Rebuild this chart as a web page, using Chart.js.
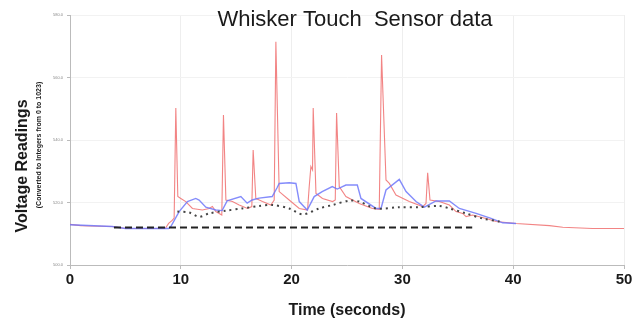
<!DOCTYPE html>
<html>
<head>
<meta charset="utf-8">
<script src="https://cdn.jsdelivr.net/npm/chart.js@4/dist/chart.umd.min.js"></script>
<style>
  html, body { margin: 0; padding: 0; background: #fff; }
  #wrap { width: 638px; height: 324px; }
</style>
</head>
<body>
<div id="wrap"><canvas id="whisker-chart"></canvas></div>
<script>
// raw sensor reading (red)
var rawTime = [0, 0.97, 1.7, 3.8, 5.0, 8.6, 8.9, 9.2, 9.4, 9.55, 9.73, 10.0, 10.45, 11.05, 11.95, 12.56, 12.85, 13.16, 13.7, 13.85, 14.07, 14.66, 15.27, 16.02, 16.41, 16.53, 16.77, 17.37, 18.13, 18.43, 18.58, 18.88, 19.78, 20.69, 21.44, 21.59, 21.74, 21.89, 21.95, 22.2, 22.79, 23.7, 23.94, 24.06, 24.3, 24.9, 26.1, 27.3, 27.91, 28.12, 28.52, 28.82, 29.42, 30.62, 31.83, 32.13, 32.28, 32.49, 33.33, 34.24, 34.84, 35.44, 35.75, 36.34, 37.55, 38.46, 40.26, 43.27, 44.47, 47.15, 50];
var rawValue = [513.0, 512.6, 512.5, 512.3, 511.7, 511.7, 513.3, 514.2, 515.0, 550.2, 521.9, 521.3, 520.3, 518.1, 517.6, 518.1, 518.7, 517.1, 516.0, 548.0, 520.8, 520.3, 519.2, 518.1, 518.7, 536.8, 521.3, 520.3, 519.2, 520.8, 571.4, 523.5, 520.8, 518.1, 517.6, 525.1, 531.5, 530.4, 550.2, 522.9, 521.3, 520.3, 520.8, 548.6, 525.1, 521.9, 519.7, 518.1, 517.8, 567.2, 527.2, 526.1, 522.4, 520.3, 518.7, 519.7, 529.5, 520.8, 520.3, 519.2, 517.1, 516.5, 515.5, 516.0, 514.9, 513.9, 513.3, 512.6, 512.1, 511.7, 511.7];

// smoothed reading (blue)
var smoothTime = [0, 3.8, 5.0, 8.9, 9.1, 9.85, 10.6, 11.35, 11.65, 12.26, 13.16, 13.73, 14.18, 15.42, 15.99, 16.44, 17.07, 18.25, 18.7, 18.88, 19.78, 20.39, 20.69, 21.41, 22.04, 22.76, 23.67, 24.12, 24.9, 25.93, 26.26, 27.62, 28.07, 28.52, 29.72, 30.33, 31.23, 31.98, 33.03, 34.24, 35.14, 36.65, 38.0, 39.05, 40.26];
var smoothValue = [512.9, 512.3, 511.7, 511.7, 512.3, 517.1, 520.3, 521.3, 520.8, 518.5, 517.6, 517.4, 520.5, 521.9, 519.8, 520.8, 521.4, 521.9, 524.8, 526.1, 526.3, 526.1, 520.3, 517.6, 521.9, 523.5, 525.1, 524.3, 525.6, 525.6, 521.3, 518.1, 518.1, 524.0, 527.4, 523.5, 520.3, 518.5, 520.5, 520.5, 518.1, 516.5, 514.9, 513.5, 513.3];

// moving average (dotted)
var avgTime = [9.69, 10.75, 11.65, 12.56, 14.07, 15.56, 17.07, 18.27, 19.78, 21.0, 22.49, 23.69, 25.2, 26.1, 27.62, 29.72, 31.53, 33.33, 34.24, 35.75, 37.22, 38.75, 39.0];
var avgValue = [517.1, 516.8, 515.4, 516.5, 517.4, 518.1, 518.9, 519.2, 518.1, 516.2, 518.1, 519.2, 520.6, 520.3, 518.1, 518.5, 518.5, 518.9, 518.1, 516.5, 514.9, 513.9, 513.5];

// resting baseline (dashed)
var baseTime = [3.97, 36.3];
var baseValue = [512.0, 512.0];

var xTicks = [0, 10, 20, 30, 40, 50];
var yTicks = [500, 520, 540, 560, 580];

function toPoints(t, v) {
  return t.map(function (x, i) { return { x: x, y: v[i] }; });
}

// titles drawn where the original has them
var titlesPlugin = {
  id: 'titles',
  afterDraw: function (chart) {
    var ctx = chart.ctx;
    ctx.save();
    ctx.fillStyle = '#1a1a1a';
    ctx.textAlign = 'center';
    ctx.textBaseline = 'middle';
    ctx.font = '22px "Liberation Sans", Arial, sans-serif';
    ctx.fillText('Whisker Touch  Sensor data', 355, 20);

    ctx.translate(23, 166);
    ctx.rotate(-Math.PI / 2);
    ctx.font = 'bold 16px "Liberation Sans", Arial, sans-serif';
    ctx.fillText('Voltage Readings', 0, 0);
    ctx.font = 'bold 7px "Liberation Sans", Arial, sans-serif';
    ctx.fillText('(Converted to Integers from 0 to 1023)', 21, 16);
    ctx.restore();
  }
};

new Chart(document.getElementById('whisker-chart'), {
  type: 'scatter',
  data: {
    datasets: [
      {
        label: 'Baseline',
        data: toPoints(baseTime, baseValue),
        showLine: true,
        borderColor: '#222',
        borderWidth: 2,
        borderDash: [7, 4],
        pointRadius: 0
      },
      {
        label: 'Average',
        data: toPoints(avgTime, avgValue),
        showLine: true,
        borderColor: '#444',
        borderWidth: 2,
        borderDash: [2, 4],
        tension: 0.3,
        pointRadius: 0
      },
      {
        label: 'Smoothed',
        data: toPoints(smoothTime, smoothValue),
        showLine: true,
        borderColor: 'rgba(110,120,250,0.85)',
        borderWidth: 1.4,
        pointRadius: 0
      },
      {
        label: 'Raw',
        data: toPoints(rawTime, rawValue),
        showLine: true,
        borderColor: 'rgba(240,110,110,0.85)',
        borderWidth: 1.1,
        pointRadius: 0
      }
    ]
  },
  options: {
    responsive: true,
    maintainAspectRatio: false,
    animation: false,
    layout: { padding: { left: 0, right: 14, top: 15, bottom: 0 } },
    plugins: {
      legend: { display: false },
      tooltip: { enabled: false }
    },
    scales: {
      x: {
        type: 'linear',
        min: 0,
        max: 50,
        afterFit: function (s) { s.height = 59; },
        afterBuildTicks: function (s) { s.ticks = xTicks.map(function (v) { return { value: v }; }); },
        grid: { color: '#eeeeee', tickLength: 4, tickColor: '#bbb' },
        border: { color: '#bbb' },
        ticks: {
          color: '#1a1a1a',
          padding: 2,
          font: { family: '"Liberation Sans", Arial, sans-serif', size: 15, weight: 'bold' }
        },
        title: {
          display: true,
          text: 'Time (seconds)',
          color: '#1a1a1a',
          padding: { top: 5 },
          font: { family: '"Liberation Sans", Arial, sans-serif', size: 16, weight: 'bold' }
        }
      },
      y: {
        min: 500,
        max: 580,
        afterFit: function (s) { s.width = 70; },
        afterBuildTicks: function (s) { s.ticks = yTicks.map(function (v) { return { value: v }; }); },
        grid: { color: '#f2f2f2', tickLength: 3, tickColor: '#bbb' },
        border: { color: '#bbb' },
        ticks: {
          color: '#888',
          padding: 4,
          font: { family: '"Liberation Sans", Arial, sans-serif', size: 4 },
          callback: function (v) { return v.toFixed(1); }
        }
      }
    }
  },
  plugins: [titlesPlugin]
});
</script>
</body>
</html>
